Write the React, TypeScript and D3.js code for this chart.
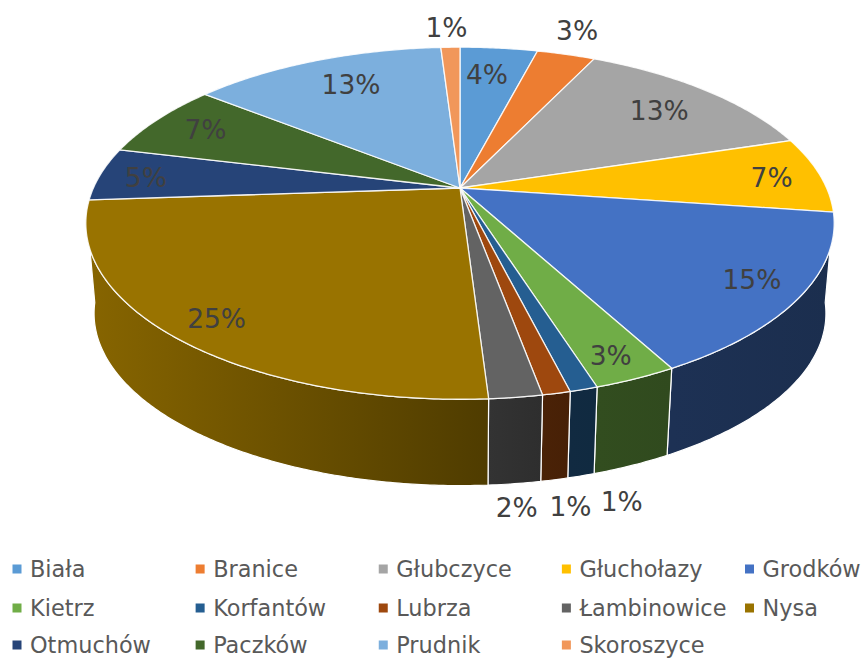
import React from "react";
import * as d3 from "d3";

const gminy = ["Biała", "Branice", "Głubczyce", "Głuchołazy", "Grodków", "Kietrz", "Korfantów", "Lubrza", "Łambinowice", "Nysa", "Otmuchów", "Paczków", "Prudnik", "Skoroszyce"];
const shares = [4.06, 3.05, 13.1, 7.0, 14.9, 3.0, 1.0, 1.0, 1.9, 24.9, 4.9, 6.9, 13.3, 1.0];
const percentLabels = ["4%", "3%", "13%", "7%", "15%", "3%", "1%", "1%", "2%", "25%", "5%", "7%", "13%", "1%"];
const colors = ["#5b9bd5", "#ed7d31", "#a5a5a5", "#ffc000", "#4472c4", "#70ad47", "#255e91", "#9e480e", "#636363", "#997300", "#264478", "#43682b", "#7cafdd", "#f1975a"];

// label offsets from the point on the rim at the slice's middle angle
const labelOffsets = [[-12, 26], [11, -24], [-46, 20], [-48, 3], [-48, -17], [-25, -23], [38, 112], [14, 113], [1, 110], [41, -19], [45, 4], [48, 10], [35, 24], [-4, -20]];

const width = 865;
const height = 659;

// perspective of the tilted disc
const cx = 460;
const cy = 188;
const radiusX = 366.6;
const radiusY = 169;
const tilt = 0.2;
const bottomY = 279;
const bottomScale = 0.978;

// part of the rim that faces the viewer
const sideFrom = (98 * Math.PI) / 180;
const sideTo = (262 * Math.PI) / 180;

const rim = (a: number, r = 1): [number, number] => {
  const u = Math.sin(a) * r;
  const v = -Math.cos(a) * r;
  const w = 1 - tilt * v;
  return [cx + (radiusX * u) / w, cy + (radiusY * v) / w];
};

const lowerRim = (a: number): [number, number] => {
  const [x, y] = rim(a);
  return [cx + (x - cx) * bottomScale, bottomY + (y - cy) * bottomScale];
};

const samples = (a0: number, a1: number) => {
  const n = Math.max(2, Math.ceil((a1 - a0) / 0.01));
  return d3.range(n + 1).map((i) => a0 + ((a1 - a0) * i) / n);
};

const shade = d3.scaleLinear().domain([88, 488, 560, 830]).range([0.88, 0.52, 0.45, 0.4]);
const darken = (c: string, k: number) => {
  const { r, g, b } = d3.rgb(c);
  return d3.rgb(r * k, g * k, b * k).formatHex();
};

const line = d3.line();
const slices = d3.pie<number>().sort(null).value((d) => d)(shares);

const legendCol = d3.scalePoint<number>().domain([0, 1, 2, 3, 4]).range([12.5, 745]);
const legendRow = d3.scaleOrdinal<number, number>().domain([0, 1, 2]).range([569, 608, 645]);

export default function App() {
  const sides = slices
    .map((s, i) => ({ a0: Math.max(s.startAngle, sideFrom), a1: Math.min(s.endAngle, sideTo), i }))
    .filter((s) => s.a1 > s.a0);

  return (
    <svg width={width} height={height} style={{ position: "absolute", left: 0, top: 0, fontFamily: "'DejaVu Sans', sans-serif" }}>
      <defs>
        {sides.map((s) => {
          const x0 = rim(s.a0)[0];
          const x1 = rim(s.a1)[0];
          return (
            <linearGradient key={s.i} id={`side-${s.i}`} gradientUnits="userSpaceOnUse" x1={x0} x2={x1} y1={0} y2={0}>
              <stop offset="0" stopColor={darken(colors[s.i], shade(x0))} />
              <stop offset="1" stopColor={darken(colors[s.i], shade(x1))} />
            </linearGradient>
          );
        })}
      </defs>

      {sides.map((s) => {
        const top = samples(s.a0, s.a1).map((a) => rim(a));
        const bottom = samples(s.a0, s.a1).map((a) => lowerRim(a)).reverse();
        return <path key={s.i} d={line([...top, ...bottom]) + "Z"} fill={`url(#side-${s.i})`} stroke="#fff" strokeWidth={1.2} strokeLinejoin="round" />;
      })}

      {slices.map((s, i) => {
        const pts: [number, number][] = [[cx, cy], ...samples(s.startAngle, s.endAngle).map((a) => rim(a))];
        return <path key={i} d={line(pts) + "Z"} fill={colors[i]} stroke="#fff" strokeWidth={1.3} strokeOpacity={0.85} strokeLinejoin="round" />;
      })}

      {slices.map((s, i) => {
        const [x, y] = rim((s.startAngle + s.endAngle) / 2);
        return (
          <text key={i} x={x + labelOffsets[i][0]} y={y + labelOffsets[i][1]} dy="0.36em" textAnchor="middle" fontSize={26.5} fill="#404040">
            {percentLabels[i]}
          </text>
        );
      })}

      {gminy.map((name, i) => {
        const x = legendCol(i % 5)!;
        const y = legendRow(Math.floor(i / 5));
        return (
          <g key={name}>
            <rect x={x} y={y - 4.5} width={9} height={9} fill={colors[i]} />
            <text x={x + 17.5} y={y + 8} fontSize={22.4} fill="#595959">
              {name}
            </text>
          </g>
        );
      })}
    </svg>
  );
}
